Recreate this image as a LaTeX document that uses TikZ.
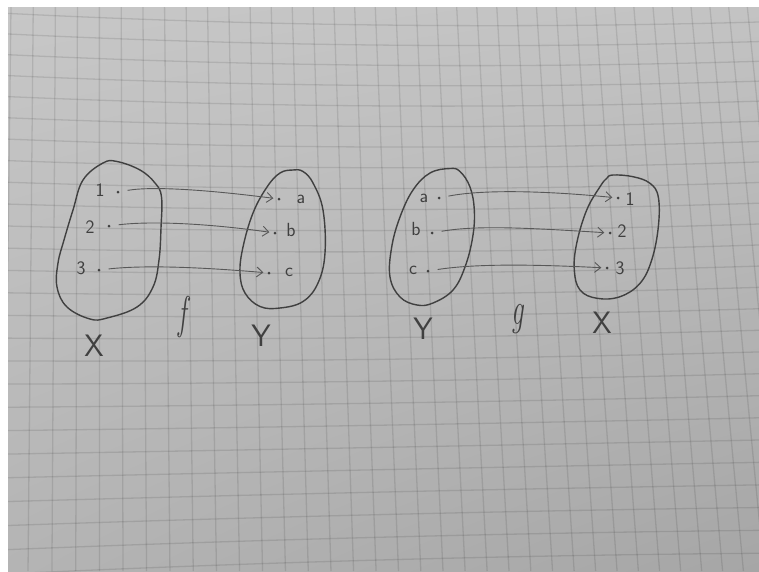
\documentclass[tikz,border=0pt]{standalone}
\usepackage{fontspec}
\usetikzlibrary{arrows.meta,shadings}
\definecolor{paperTL}{RGB}{199,199,199}
\definecolor{paperTR}{RGB}{195,195,195}
\definecolor{paperBL}{RGB}{180,180,180}
\definecolor{paperBR}{RGB}{166,166,166}
\definecolor{ink}{RGB}{64,64,64}
\definecolor{inklight}{RGB}{88,88,88}
\begin{document}
\begin{tikzpicture}[x=1pt,y=-1pt,
  gridline/.style={black,opacity=0.1,line width=1.3pt},
  blob/.style={draw=ink,line width=1.4pt},
  elem/.style={circle,fill=ink,inner sep=0pt,minimum size=3pt},
  lbl/.style={text=ink,font=\sffamily\fontsize{19}{19}\selectfont,inner sep=0pt},
  setlbl/.style={text=ink,font=\sffamily\fontsize{31}{31}\selectfont,inner sep=0pt},
  maplbl/.style={text=ink,font=\itshape\fontsize{34}{34}\selectfont,inner sep=0pt},
  maparrow/.style={draw=inklight,line width=0.9pt,-{Straight Barb[length=6pt,width=10pt]},shorten <=8pt,shorten >=4pt}]
\useasboundingbox (0,0) rectangle (759,571);
% paper
\fill[white] (0,0) rectangle (759,571);
\shade[upper left=paperTL,upper right=paperTR,lower left=paperBL,lower right=paperBR] (8,7) rectangle (759,571);
\begin{scope}
\clip (8,7) rectangle (759,571);
\foreach \k in {0,...,25}{
  \pgfmathsetmacro\yl{13+20.5*\k+0.078*\k*\k}
  \pgfmathsetmacro\ym{25+20*\k+0.056*\k*\k}
  \pgfmathsetmacro\yr{22+19.5*\k+0.07*\k*\k}
  \pgfmathsetmacro\yc{2*\ym-(\yl+\yr)/2}
  \pgfmathsetmacro\ca{\yl+2/3*(\yc-\yl)}
  \pgfmathsetmacro\cb{\yr+2/3*(\yc-\yr)}
  \draw[gridline] (0,\yl) .. controls (253.3,\ca) and (505.7,\cb) .. (759,\yr);
}
\foreach \j in {0,...,37}{
  \pgfmathsetmacro\xt{11+22.3*\j-0.0513*\j*\j}
  \pgfmathsetmacro\xb{4.39+23.96*\j-0.05*\j*\j}
  \pgfmathsetmacro\dd{\xb-\xt}
  \draw[gridline] (\xt-0.0131*\dd,0) -- (\xt+1.0562*\dd,571);
}
\end{scope}

% ---------- left diagram: f : X -> Y ----------
\draw[blob] plot[smooth cycle,tension=0.65] coordinates {(103,163) (117,161.5) (140,170) (155,183) (161.5,197) (161,228) (159,260) (153,287) (137,307) (107,318) (90,319) (67,307) (57,287) (58,263) (64,240) (73,210) (83,180)};
\draw[blob] plot[smooth cycle,tension=0.65] coordinates {(293,170) (280,173) (267,187) (253,213) (243,247) (240,273) (245,293) (260,306.5) (280,308) (303,301.5) (318,283) (325,253) (323,210) (313,183) (303,171.5)};

\node[elem] (x1) at (118,192) {};
\node[elem] (x2) at (109,226) {};
\node[elem] (x3) at (99,270) {};
\node[lbl] (lx1) at (100,190) {1};
\node[lbl] (lx2) at (90,227) {2};
\node[lbl] (lx3) at (81,268) {3};

\node[elem] (ya) at (279,199) {};
\node[elem] (yb) at (275,233) {};
\node[elem] (yc) at (269,273) {};
\node[lbl] (lya) at (301,199) {a};
\node[lbl] (lyb) at (291,230) {b};
\node[lbl] (lyc) at (289,272) {c};

\draw[maparrow] (x1) .. controls +(35,-6) and +(-70,-9) .. (ya);
\draw[maparrow] (x2) .. controls +(40,-5) and +(-70,-10) .. (yb);
\draw[maparrow] (x3) .. controls +(45,-5) and +(-70,-6) .. (yc);

\node[setlbl] (setX1) at (94,346) {X};
\node[maplbl] (mapf) at (183,317) {\scalebox{0.8}[1.35]{f}};
\node[setlbl] (setY1) at (261,336) {Y};

% ---------- right diagram: g : Y -> X ----------
\draw[blob] plot[smooth cycle,tension=0.65] coordinates {(450,168.5) (460,171.5) (470,187) (474.3,210) (472.7,237) (465,267) (453,290) (433,303) (417,305) (400,297) (390,277) (391.7,247) (400,217) (413,190) (430,173)};
\draw[blob] plot[smooth cycle,tension=0.65] coordinates {(613,175) (633,176.7) (650,183.3) (658.3,197) (658.3,227) (651.7,260) (640,283.3) (620,296.7) (597,298.3) (580,290) (574.3,270) (576.7,243.3) (586.7,210) (600,186.7) (606.7,178.3)};

\node[elem] (ga) at (439,198) {};
\node[elem] (gb) at (432,233) {};
\node[elem] (gc) at (428,271) {};
\node[lbl] (lga) at (424,198) {a};
\node[lbl] (lgb) at (416,229) {b};
\node[lbl] (lgc) at (413,270) {c};

\node[elem] (g1) at (618,198) {};
\node[elem] (g2) at (610,233) {};
\node[elem] (g3) at (607,268) {};
\node[lbl] (lg1) at (630,199) {1};
\node[lbl] (lg2) at (622,231) {2};
\node[lbl] (lg3) at (620,268) {3};

\draw[maparrow] (ga) .. controls +(40,-8) and +(-80,-8) .. (g1);
\draw[maparrow] (gb) .. controls +(45,-8) and +(-80,-5) .. (g2);
\draw[maparrow] (gc) .. controls +(45,-7) and +(-80,-4) .. (g3);

\node[setlbl] (setY2) at (423,329) {Y};
\node[maplbl] (mapg) at (518,319) {\scalebox{0.8}[1.35]{g}};
\node[setlbl] (setX2) at (602,323) {X};
\end{tikzpicture}
\end{document}
